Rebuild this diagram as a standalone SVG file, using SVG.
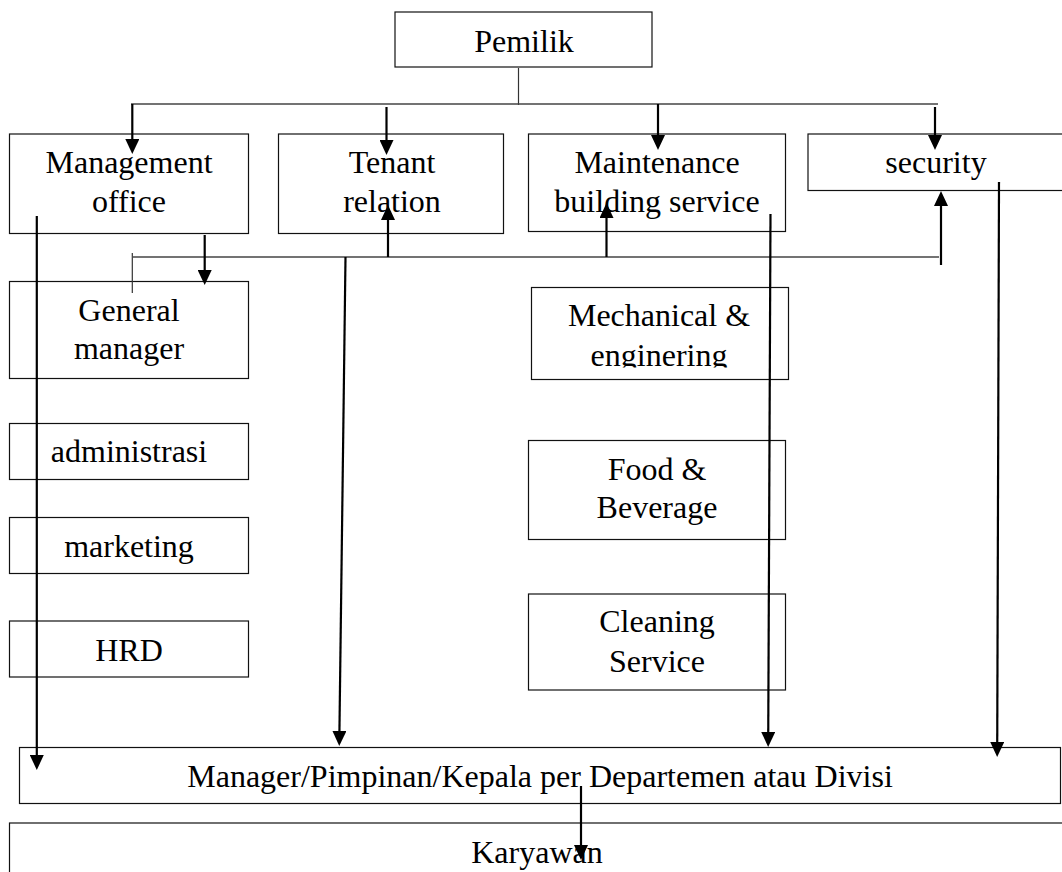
<svg xmlns="http://www.w3.org/2000/svg" width="1062" height="872" viewBox="0 0 1062 872">
  <style>
    .box { fill: #fff; stroke: #111; stroke-width: 1.2; }
    .lbl { font-family: "Liberation Serif", "Times New Roman", serif; font-size: 32px; fill: #000; text-anchor: middle; }
    .bus { fill: none; stroke: #444; stroke-width: 1.6; }
    .thin { fill: none; stroke: #333; stroke-width: 1.2; }
    .arr { fill: none; stroke: #000; stroke-width: 2.2; marker-end: url(#head); }
  </style>
  <defs>
    <marker id="head" viewBox="0 0 15 14" refX="11" refY="7" markerWidth="15" markerHeight="14" markerUnits="userSpaceOnUse" orient="auto">
      <path d="M0,0 L15,7 L0,14 z" fill="#000"/>
    </marker>
    <clipPath id="clipMech">
      <rect x="531" y="287" width="258" height="80.5"/>
    </clipPath>
  </defs>
  <rect width="1062" height="872" fill="#fff"/>

  <g id="pemilik">
    <rect class="box" x="395" y="12" width="257" height="55"/>
    <text class="lbl" x="524" y="52">Pemilik</text>
  </g>

  <g id="management-office">
    <rect class="box" x="9.5" y="134" width="239" height="99.5"/>
    <text class="lbl" x="129" y="173">Management</text>
    <text class="lbl" x="129" y="212">office</text>
  </g>

  <g id="tenant-relation">
    <rect class="box" x="278.5" y="134" width="225" height="99.5"/>
    <text class="lbl" x="392" y="173">Tenant</text>
    <text class="lbl" x="392" y="212">relation</text>
  </g>

  <g id="maintenance">
    <rect class="box" x="528.5" y="134" width="257" height="97.5"/>
    <text class="lbl" x="657" y="173">Maintenance</text>
    <text class="lbl" x="657" y="212">building service</text>
  </g>

  <g id="security">
    <rect class="box" x="808" y="134" width="260" height="56.5"/>
    <text class="lbl" x="936" y="173">security</text>
  </g>

  <g id="general-manager">
    <rect class="box" x="9.5" y="281.5" width="239" height="97"/>
    <text class="lbl" x="129" y="321">General</text>
    <text class="lbl" x="129" y="359">manager</text>
  </g>

  <g id="administrasi">
    <rect class="box" x="9.5" y="423.5" width="239" height="56"/>
    <text class="lbl" x="129" y="462">administrasi</text>
  </g>

  <g id="marketing">
    <rect class="box" x="9.5" y="517.5" width="239" height="56"/>
    <text class="lbl" x="129" y="557">marketing</text>
  </g>

  <g id="hrd">
    <rect class="box" x="9.5" y="621" width="239" height="56"/>
    <text class="lbl" x="129" y="661">HRD</text>
  </g>

  <g id="mechanical">
    <rect class="box" x="531.5" y="287.5" width="257" height="92"/>
    <g clip-path="url(#clipMech)">
      <text class="lbl" x="659" y="326">Mechanical &amp;</text>
      <text class="lbl" x="659" y="366">enginering</text>
    </g>
  </g>

  <g id="food-beverage">
    <rect class="box" x="528.5" y="440.5" width="257" height="99"/>
    <text class="lbl" x="657" y="480">Food &amp;</text>
    <text class="lbl" x="657" y="518">Beverage</text>
  </g>

  <g id="cleaning-service">
    <rect class="box" x="528.5" y="594" width="257" height="96"/>
    <text class="lbl" x="657" y="632">Cleaning</text>
    <text class="lbl" x="657" y="672">Service</text>
  </g>

  <g id="manager-divisi">
    <rect class="box" x="19.5" y="747.5" width="1041" height="56"/>
    <text class="lbl" x="540" y="787">Manager/Pimpinan/Kepala per Departemen atau Divisi</text>
  </g>

  <g id="karyawan">
    <rect class="box" x="9.5" y="823" width="1060" height="60"/>
    <text class="lbl" x="537" y="863">Karyawan</text>
  </g>

  <g id="connectors">
    <!-- owner to the four units -->
    <line class="thin" x1="518.5" y1="68" x2="518.5" y2="105"/>
    <line class="bus" x1="131" y1="104" x2="938" y2="104"/>
    <line class="arr" x1="132.3" y1="104" x2="132.3" y2="150"/>
    <line class="arr" x1="386.5" y1="107" x2="386.5" y2="151"/>
    <line class="arr" x1="658" y1="104" x2="658" y2="146"/>
    <line class="arr" x1="935" y1="107" x2="935" y2="146"/>

    <!-- second bus back up to the units -->
    <line class="thin" x1="132.3" y1="253" x2="132.3" y2="293"/>
    <line class="bus" x1="133" y1="257" x2="939" y2="257"/>
    <line class="arr" x1="388" y1="257" x2="388" y2="209"/>
    <line class="arr" x1="606.5" y1="257" x2="606.5" y2="207"/>
    <line class="arr" x1="941" y1="265" x2="941" y2="195"/>

    <!-- management office to general manager -->
    <line class="arr" x1="204.7" y1="235" x2="204.7" y2="281"/>

    <!-- long drops to the department heads -->
    <line class="arr" x1="36.8" y1="216" x2="36.8" y2="766"/>
    <line class="arr" x1="345.5" y1="257" x2="339.3" y2="742"/>
    <line class="arr" x1="770.5" y1="214" x2="768.2" y2="743"/>
    <line class="arr" x1="999" y1="182" x2="997.2" y2="753"/>

    <!-- department heads to staff -->
    <line class="arr" x1="581" y1="786" x2="581" y2="856"/>
  </g>
</svg>
